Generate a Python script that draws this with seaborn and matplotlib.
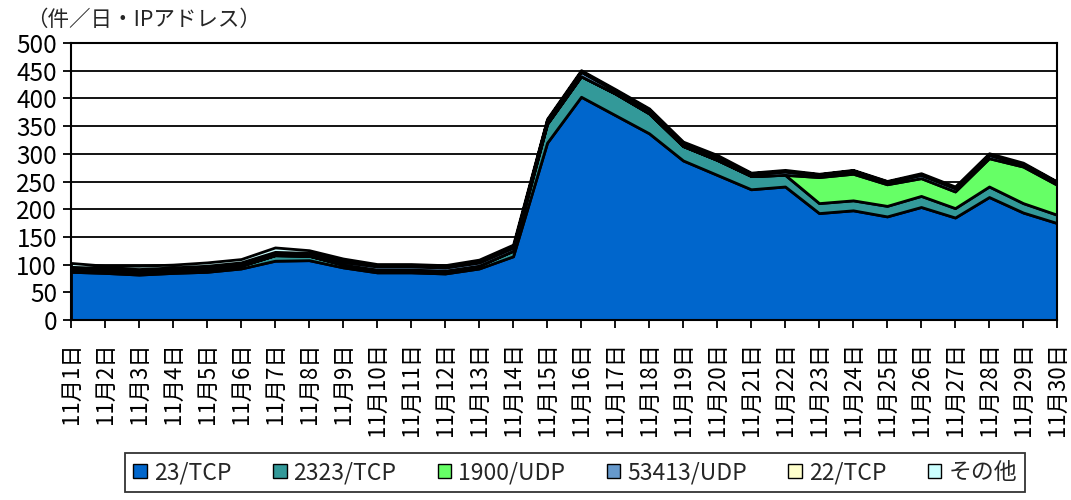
import numpy as np
import pandas as pd
import matplotlib
matplotlib.use("Agg")
import matplotlib.pyplot as plt
import seaborn as sns
from matplotlib.patches import Patch

days = [f"11月{d}日" for d in range(1, 31)]

tcp23 = [87, 85, 82, 85, 87, 93, 107, 108, 95, 86, 86, 84, 93, 115, 320,
         403, 370, 337, 288, 262, 236, 241, 193, 198, 187, 204, 185, 222, 194, 175]
tcp2323 = [4, 4, 4, 4, 5, 5, 10, 8, 5, 5, 5, 5, 5, 10, 34,
           37, 39, 36, 26, 27, 24, 21, 18, 18, 19, 20, 17, 19, 17, 15]
udp1900 = [0, 0, 0, 0, 0, 0, 0, 0, 0, 0, 0, 0, 0, 0, 0,
           0, 0, 0, 0, 0, 0, 0, 47, 48, 39, 32, 30, 51, 66, 54]
udp53413 = [4, 4, 5, 5, 5, 5, 5, 4, 5, 6, 6, 6, 6, 6, 6,
            8, 5, 6, 5, 5, 4, 6, 4, 5, 4, 6, 6, 6, 4, 4]
tcp22 = [1] * 30
other = [7, 4, 6, 5, 6, 6, 8, 5, 5, 3, 3, 3, 4, 4, 2,
         2, 2, 2, 2, 3, 1, 2, 1, 1, 1, 2, 2, 2, 2, 1]

series = ["23/TCP", "2323/TCP", "1900/UDP", "53413/UDP", "22/TCP", "その他"]
colors = ["#0066CC", "#339999", "#66FF66", "#6699CC", "#FFFFCC", "#CCFFFF"]

df = pd.DataFrame({
    "day": days,
    "23/TCP": tcp23,
    "2323/TCP": tcp2323,
    "1900/UDP": udp1900,
    "53413/UDP": udp53413,
    "22/TCP": tcp22,
    "その他": other,
})

sns.set_theme(style="white")
plt.rcParams["font.family"] = ["Noto Sans CJK JP", "DejaVu Sans"]

fig = plt.figure(figsize=(10.71, 5.0), dpi=100)
ax = fig.add_axes([0.0663, 0.36, 0.9207, 0.554])

x = np.arange(len(days))
ax.stackplot(x, [df[s].values for s in series], colors=colors,
             edgecolor="black", linewidth=2.0, zorder=3)

ax.set_xlim(0, len(days) - 1)
ax.set_ylim(0, 500)
ax.set_yticks(np.arange(0, 501, 50))
ax.yaxis.grid(True, color="black", linewidth=1.3, zorder=0)
ax.set_axisbelow(True)
ax.set_xticks(x)
ax.set_xticklabels(df["day"], rotation=90, va="top", ha="center")
ax.tick_params(axis="both", direction="out", length=6, width=1.3,
               color="black", labelsize=16, labelcolor="black", pad=3,
               bottom=True, left=True)
ax.tick_params(axis="y", labelsize=17.5, pad=4)
ax.tick_params(axis="x", pad=10)
for sp in ax.spines.values():
    sp.set_visible(True)
    sp.set_color("black")
    sp.set_linewidth(1.5)
    sp.set_zorder(5)

fig.text(0.024, 0.96, "（件／日・IPアドレス）", fontsize=15.5, va="center", ha="left")

handles = [Patch(facecolor=c, edgecolor="black", linewidth=1.0) for c in colors]
leg = fig.legend(handles, series, loc="upper center", bbox_to_anchor=(0.537, 0.094),
                 ncol=6, fontsize=16.5, frameon=True, fancybox=False,
                 handlelength=0.6, handleheight=0.6, handletextpad=0.3,
                 columnspacing=1.8, borderpad=0.35, borderaxespad=0)
leg.get_frame().set_edgecolor("black")
leg.get_frame().set_linewidth(1.3)

fig.savefig("out.png", dpi=100)
